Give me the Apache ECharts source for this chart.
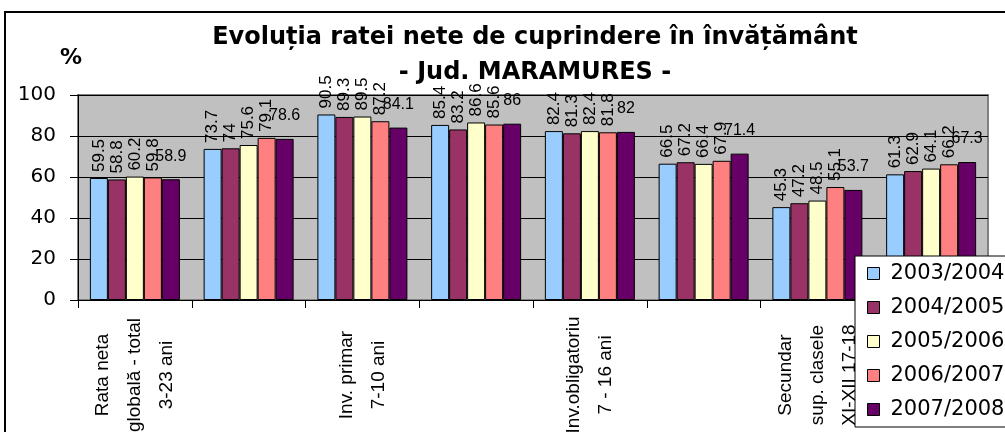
<!DOCTYPE html>
<html>
<head>
<meta charset="utf-8">
<script src="https://cdn.jsdelivr.net/npm/echarts@6/dist/echarts.min.js"></script>
<style>
  html, body { margin: 0; padding: 0; background: #fff; }
  #chart { width: 1005px; height: 432px; }
</style>
</head>
<body>
<div id="chart"></div>
<script>
// categorii (cele intermediare nu apar pe axa, ca in original)
const categories = [
  'Rata neta\nglobală - total\n3-23 ani',
  'Inv. preşcolar\n3-6 ani',
  'Inv. primar\n7-10 ani',
  'Inv. gimnazial\n11-14 ani',
  'Inv.obligatoriu\n7 - 16 ani',
  'Secundar\nsup. clasele\nIX-X 15-16',
  'Secundar\nsup. clasele\nXI-XII 17-18',
  'Inv. terţiar\n19-23 ani'
]
const years = ['2003/2004', '2004/2005', '2005/2006', '2006/2007', '2007/2008']
const v2003 = [59.5, 73.7, 90.5, 85.4, 82.4, 66.5, 45.3, 61.3]
const v2004 = [58.8, 74, 89.3, 83.2, 81.3, 67.2, 47.2, 62.9]
const v2005 = [60.2, 75.6, 89.5, 86.6, 82.4, 66.4, 48.5, 64.1]
const v2006 = [59.8, 79.1, 87.2, 85.6, 81.8, 67.9, 55.1, 66.2]
const v2007 = [58.9, 78.6, 84.1, 86, 82, 71.4, 53.7, 67.3]
const yTicks = [0, 20, 40, 60, 80, 100]

const colors = ['#99ccff', '#993366', '#ffffcc', '#ff8080', '#660066']
const font = 'Arial, "Liberation Sans", sans-serif'
const wide = '"DejaVu Sans", Arial, sans-serif' // textul din original e mai lat
const values = [v2003, v2004, v2005, v2006, v2007]

const series = values.map((data, i) => {
  const last = i === values.length - 1
  return {
    name: years[i],
    type: 'bar',
    data: data,
    barWidth: 18,
    barGap: '0%',
    itemStyle: {
      color: colors[i],
      borderColor: '#000',
      borderWidth: 1
    },
    label: last ? {
      show: true,
      position: 'top',
      distance: 15,
      color: '#000',
      fontFamily: font,
      fontSize: 16
    } : {
      show: true,
      position: 'top',
      rotate: 90,
      align: 'left',
      verticalAlign: 'middle',
      distance: 6,
      color: '#000',
      fontFamily: font,
      fontSize: 17
    }
  }
})

const chart = echarts.init(document.getElementById('chart'))
chart.setOption({
  animation: false,
  color: colors,
  textStyle: { fontFamily: font },
  graphic: [{
    type: 'rect',
    shape: { x: 5, y: 12, width: 1100, height: 500 },
    style: { fill: 'none', stroke: '#000', lineWidth: 2 },
    z: -1
  }, {
    type: 'text',
    left: 60,
    top: 47,
    style: { text: '%', font: 'bold 22px ' + wide, fill: '#000' }
  }],
  title: {
    text: 'Evoluția ratei nete de cuprindere în învățământ\n- Jud. MARAMURES -',
    left: 530,
    top: 15,
    textAlign: 'center',
    textStyle: {
      fontFamily: wide,
      fontSize: 24,
      fontWeight: 'bold',
      lineHeight: 35,
      color: '#000'
    }
  },
  legend: {
    orient: 'vertical',
    left: 855,
    top: 256,
    padding: [7, 40, 7, 12],
    itemWidth: 12,
    itemHeight: 12,
    itemGap: 13,
    icon: 'rect',
    backgroundColor: '#fff',
    borderColor: '#000',
    borderWidth: 1,
    itemStyle: { borderColor: '#000', borderWidth: 1 },
    textStyle: {
      fontFamily: wide,
      fontSize: 21,
      color: '#000',
      padding: [0, 0, 0, 6]
    },
    data: years
  },
  grid: {
    left: 78,
    right: 17,
    top: 95,
    bottom: 132,
    outerBoundsMode: 'none',
    containLabel: false,
    show: true,
    backgroundColor: '#c0c0c0',
    borderColor: '#808080',
    borderWidth: 2
  },
  xAxis: {
    type: 'category',
    data: categories,
    axisLine: { lineStyle: { color: '#000', width: 1 } },
    axisTick: { show: true, interval: 0, length: 8, lineStyle: { color: '#000' } },
    axisLabel: {
      interval: 1,
      rotate: 90,
      margin: 75,
      align: 'center',
      verticalAlign: 'middle',
      color: '#000',
      fontFamily: font,
      fontSize: 19,
      lineHeight: 32
    }
  },
  yAxis: {
    type: 'value',
    min: yTicks[0],
    max: yTicks[yTicks.length - 1],
    interval: yTicks[1] - yTicks[0],
    axisLine: { show: true, lineStyle: { color: '#000', width: 1 } },
    axisTick: { show: true, length: 8, lineStyle: { color: '#000' } },
    axisLabel: {
      color: '#000',
      fontFamily: wide,
      fontSize: 20,
      margin: 22
    },
    splitLine: { lineStyle: { color: '#000', width: 1 } }
  },
  series: series
})
</script>
</body>
</html>
